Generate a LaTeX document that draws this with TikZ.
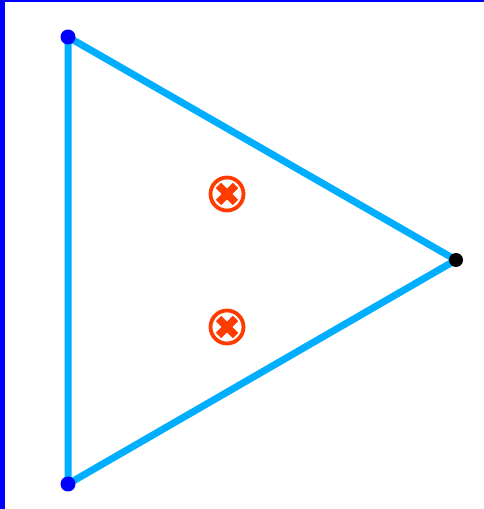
\documentclass[tikz,border=0pt]{standalone}
\begin{document}
\begin{tikzpicture}[x=1pt,y=1pt,
  edge/.style={draw=tri,line width=7pt,line cap=round,line join=round},
  bdot/.style={circle,fill=blue,inner sep=0pt,minimum size=15pt},
  kdot/.style={circle,fill=black,inner sep=0pt,minimum size=14pt},
  xmark/.style={circle,draw=xred,line width=3.8pt,inner sep=0pt,minimum size=33pt,
    path picture={\draw[xred,line width=7.5pt] ([shift={(-8.5pt,-8.5pt)}]path picture bounding box.center) -- ([shift={(8.5pt,8.5pt)}]path picture bounding box.center);
                  \draw[xred,line width=7.5pt] ([shift={(-8.5pt,8.5pt)}]path picture bounding box.center) -- ([shift={(8.5pt,-8.5pt)}]path picture bounding box.center);}}]
\definecolor{tri}{RGB}{0,174,255}
\definecolor{xred}{RGB}{255,60,0}
\useasboundingbox (0,0) rectangle (484,509);
\fill[white] (0,0) rectangle (484,509);
\fill[blue] (0,0) rectangle (5,509);
\fill[blue] (0,507) rectangle (484,509);
\coordinate (A) at (68,472);
\coordinate (B) at (68,25);
\coordinate (C) at (456,249);
\draw[edge] (A) -- (C) -- (B) -- cycle;
\node[bdot] (a) at (A) {};
\node[bdot] (b) at (B) {};
\node[kdot] (c) at (C) {};
\node[xmark] (x1) at (227,315) {};
\node[xmark] (x2) at (227,182) {};
\end{tikzpicture}
\end{document}
